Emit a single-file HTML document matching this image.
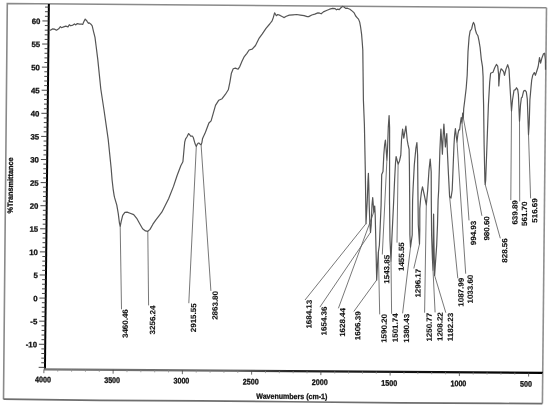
<!DOCTYPE html>
<html><head><meta charset="utf-8"><title>IR spectrum</title>
<style>
html,body{margin:0;padding:0;background:#fff;}
body{width:550px;height:407px;overflow:hidden;}
svg{display:block;filter:blur(0.25px);}
text{font-family:"Liberation Sans", Arial, sans-serif;fill:#111;stroke:#111;stroke-width:0.3px;font-weight:bold;}
text.pk{stroke-width:0.1px;}
</style></head><body>
<svg width="550" height="407" viewBox="0 0 550 407">
<defs><linearGradient id="xg" gradientUnits="userSpaceOnUse" x1="45" y1="0" x2="543" y2="0"><stop offset="0" stop-color="#777"/><stop offset="0.38" stop-color="#666"/><stop offset="0.5" stop-color="#222"/><stop offset="1" stop-color="#000"/></linearGradient></defs>
<rect width="550" height="407" fill="#fff"/>
<polyline points="3.5,399.2 7.3,3.5 546.5,7.75" fill="none" stroke="#8a8a8a" stroke-width="1.6"/>
<polyline points="546.5,7.75 542.4,403.6" fill="none" stroke="#909090" stroke-width="1.6"/>
<polyline points="542.4,403.6 500,403.45 400,402.95 290,401.75 200,400.9 100,400.35 3.5,399.2" fill="none" stroke="#6e6e6e" stroke-width="1.7" stroke-linejoin="round"/>
<line x1="48.86" y1="4" x2="44.95" y2="369.4" stroke="#000" stroke-width="2"/>
<line x1="44.05" y1="369.4" x2="542.85" y2="372.84" stroke="url(#xg)" stroke-width="2.1"/>
<path d="M38.67 367.35L44.97 367.39M41.22 362.75L45.02 362.78M41.27 358.13L45.07 358.16M41.32 353.51L45.12 353.54M41.37 348.89L45.17 348.92M38.92 344.26L45.22 344.3M41.47 339.65L45.27 339.68M41.52 335.04L45.32 335.06M41.57 330.42L45.37 330.44M41.62 325.8L45.42 325.82M39.17 321.16L45.47 321.2M41.72 316.56L45.52 316.59M41.76 311.94L45.56 311.97M41.81 307.32L45.61 307.35M41.86 302.7L45.66 302.73M39.41 298.07L45.71 298.11M41.96 293.46L45.76 293.49M42.01 288.85L45.81 288.87M42.06 284.23L45.86 284.25M42.11 279.61L45.91 279.63M39.66 274.97L45.96 275.01M42.21 270.37L46.01 270.4M42.26 265.75L46.06 265.78M42.31 261.13L46.11 261.16M42.36 256.51L46.16 256.54M39.91 251.88L46.21 251.92M42.46 247.27L46.26 247.3M42.51 242.66L46.31 242.68M42.56 238.04L46.36 238.06M42.6 233.42L46.4 233.44M40.15 228.78L46.45 228.82M42.7 224.18L46.5 224.21M42.75 219.56L46.55 219.59M42.8 214.94L46.6 214.97M42.85 210.32L46.65 210.35M40.4 205.69L46.7 205.73M42.95 201.08L46.75 201.11M43 196.47L46.8 196.49M43.05 191.85L46.85 191.87M43.1 187.23L46.9 187.25M40.65 182.59L46.95 182.63M43.2 177.99L47 178.02M43.25 173.37L47.05 173.4M43.3 168.75L47.1 168.78M43.35 164.13L47.15 164.16M40.9 159.5L47.2 159.54M43.44 154.89L47.24 154.92M43.49 150.28L47.29 150.3M43.54 145.66L47.34 145.68M43.59 141.04L47.39 141.06M41.14 136.4L47.44 136.44M43.69 131.8L47.49 131.83M43.74 127.18L47.54 127.21M43.79 122.56L47.59 122.59M43.84 117.94L47.64 117.97M41.39 113.31L47.69 113.35M43.94 108.7L47.74 108.73M43.99 104.09L47.79 104.11M44.04 99.47L47.84 99.49M44.09 94.85L47.89 94.87M41.64 90.21L47.94 90.25M44.19 85.61L47.99 85.64M44.24 80.99L48.04 81.02M44.29 76.37L48.09 76.4M44.33 71.75L48.13 71.78M41.88 67.12L48.18 67.16M44.43 62.51L48.23 62.54M44.48 57.9L48.28 57.92M44.53 53.28L48.33 53.3M44.58 48.66L48.38 48.68M42.13 44.02L48.43 44.06M44.68 39.42L48.48 39.45M44.73 34.8L48.53 34.83M44.78 30.18L48.58 30.21M44.83 25.56L48.63 25.59M42.38 20.93L48.68 20.97M44.93 16.32L48.73 16.35M44.98 11.71L48.78 11.73M45.03 7.09L48.83 7.11" stroke="#333" stroke-width="0.9"/>
<text transform="translate(36.99 347.37) rotate(0.42)" font-size="7.8" text-anchor="end">-10</text>
<text transform="translate(37.23 324.28) rotate(0.42)" font-size="7.8" text-anchor="end">-5</text>
<text transform="translate(37.48 301.18) rotate(0.42)" font-size="7.8" text-anchor="end">0</text>
<text transform="translate(37.73 278.09) rotate(0.42)" font-size="7.8" text-anchor="end">5</text>
<text transform="translate(37.97 254.99) rotate(0.42)" font-size="7.8" text-anchor="end">10</text>
<text transform="translate(38.22 231.9) rotate(0.42)" font-size="7.8" text-anchor="end">15</text>
<text transform="translate(38.47 208.8) rotate(0.42)" font-size="7.8" text-anchor="end">20</text>
<text transform="translate(38.71 185.71) rotate(0.42)" font-size="7.8" text-anchor="end">25</text>
<text transform="translate(38.96 162.61) rotate(0.42)" font-size="7.8" text-anchor="end">30</text>
<text transform="translate(39.21 139.52) rotate(0.42)" font-size="7.8" text-anchor="end">35</text>
<text transform="translate(39.46 116.42) rotate(0.42)" font-size="7.8" text-anchor="end">40</text>
<text transform="translate(39.7 93.33) rotate(0.42)" font-size="7.8" text-anchor="end">45</text>
<text transform="translate(39.95 70.23) rotate(0.42)" font-size="7.8" text-anchor="end">50</text>
<text transform="translate(40.2 47.14) rotate(0.42)" font-size="7.8" text-anchor="end">55</text>
<text transform="translate(40.44 24.04) rotate(0.42)" font-size="7.8" text-anchor="end">60</text>
<path d="M43.9 369.39L43.86 373.19M113.15 369.87L113.11 373.67M182.4 370.35L182.36 374.15M251.65 370.83L251.61 374.63M320.9 371.3L320.86 375.1M390.15 371.78L390.11 375.58M459.4 372.26L459.36 376.06M528.65 372.74L528.61 376.54" stroke="#444" stroke-width="0.8"/>
<path d="M57.75 369.49L57.73 371.69M71.6 369.58L71.58 371.78M85.45 369.68L85.43 371.88M99.3 369.78L99.28 371.98M127 369.97L126.98 372.17M140.85 370.06L140.83 372.26M154.7 370.16L154.68 372.36M168.55 370.25L168.53 372.45M196.25 370.44L196.23 372.64M210.1 370.54L210.08 372.74M223.95 370.64L223.93 372.84M237.8 370.73L237.78 372.93M265.5 370.92L265.48 373.12M279.35 371.02L279.33 373.22M293.2 371.11L293.18 373.31M307.05 371.21L307.03 373.41M334.75 371.4L334.73 373.6M348.6 371.5L348.58 373.7M362.45 371.59L362.43 373.79M376.3 371.69L376.28 373.89M404 371.88L403.98 374.08M417.85 371.97L417.83 374.17M431.7 372.07L431.68 374.27M445.55 372.16L445.53 374.36M473.25 372.36L473.23 374.56M487.1 372.45L487.08 374.65M500.95 372.55L500.93 374.75M514.8 372.64L514.78 374.84M542.5 372.83L542.48 375.03" stroke="#888" stroke-width="0.7"/>
<text transform="translate(43 382.4) rotate(0.42) scale(0.94 1.08)" font-size="7.6" text-anchor="middle">4000</text>
<text transform="translate(112.1 383) rotate(0.42) scale(0.94 1.08)" font-size="7.6" text-anchor="middle">3500</text>
<text transform="translate(181.4 383.5) rotate(0.42) scale(0.94 1.08)" font-size="7.6" text-anchor="middle">3000</text>
<text transform="translate(250.7 384.5) rotate(0.42) scale(0.94 1.08)" font-size="7.6" text-anchor="middle">2500</text>
<text transform="translate(319.8 385) rotate(0.42) scale(0.94 1.08)" font-size="7.6" text-anchor="middle">2000</text>
<text transform="translate(389.2 385.9) rotate(0.42) scale(0.94 1.08)" font-size="7.6" text-anchor="middle">1500</text>
<text transform="translate(458.4 386.2) rotate(0.42) scale(0.94 1.08)" font-size="7.6" text-anchor="middle">1000</text>
<text transform="translate(525.9 386.7) rotate(0.42) scale(0.94 1.08)" font-size="7.6" text-anchor="middle">500</text>
<text transform="translate(291.8 398.9) rotate(0.42)" font-size="7.6" text-anchor="middle" textLength="71" lengthAdjust="spacingAndGlyphs">Wavenumbers (cm-1)</text>
<text transform="translate(12.9 185.4) rotate(-89.58)" font-size="7.6" text-anchor="middle" textLength="56" lengthAdjust="spacingAndGlyphs">%Transmittance</text>
<polyline points="48.9,30 50.5,30.2 52.7,28.8 54.4,29.1 56.5,30.2 58.7,28.8 60.4,26.6 61.5,27.7 63.6,26.9 65.8,26.1 68,26.9 69.3,24.7 70.7,25.8 72.9,25.1 74.5,23.9 75.6,24.9 77.3,23.6 79.5,24.2 81.6,24 82.7,24.5 83.8,21.8 85.2,19.1 86.5,20.4 87.6,22.2 88.5,23.3 89.3,22.9 90.9,24.2 92.2,25.8 93.6,31.8 95,37.3 96.1,46 97.8,59.6 100.8,89 104,110 108.2,139.4 111.2,168.8 112.1,180 113.1,188.8 114.1,195.3 114.6,197.7 116.8,205.1 118.3,213.9 119.4,222.8 120.2,226.4 121.2,221.3 122.7,215.4 124.9,212.4 127.1,212.1 130.1,213.2 133.7,214.6 136.7,218.3 139.6,223.5 142.6,228.7 145.5,230.9 147.8,231.3 150,229.4 152.9,224.2 155.9,219.8 158.8,216.1 161.8,212.2 163.7,208.5 168.6,198.7 173.5,186.4 177.2,175.3 180.9,165.5 182.9,161.8 183.9,150.8 184.7,142.2 185.6,138.8 186.9,137 188.6,133.6 189.5,134.5 190.7,136.2 192.5,136.2 193.3,137.5 194.6,142.2 195.5,144.8 196.3,146.5 197.2,144.3 198.2,143.1 199.1,143.2 200.2,144.3 201.1,144.8 201.9,142.6 202.5,138.8 203.6,136.2 204.9,133.6 206.2,130.2 207.5,126.7 208.9,123 211.1,120.8 213.3,113.1 215.5,105.3 218.8,100.2 222.1,98.7 225.5,94.2 228.3,89.8 229.9,82.1 231.4,73.2 233.2,68.8 235.4,68.1 238.1,69.2 239.8,66.6 242.1,61 244.3,56.6 246.9,53.3 249.1,50 252.2,49.2 255.5,45.5 259.2,38.1 262.3,33.8 266,28.3 269.7,24 272.1,20.9 273.4,17.2 274.6,12.9 275.8,14.8 276.4,15.7 277.7,14.5 280.1,15.4 282.6,16.8 284.2,17.6 286.3,16.2 289.3,15.1 293,14.8 296.7,14.5 300.4,15.1 304.1,15.7 307.2,16.6 308.7,16.6 311.8,15 314.8,14.1 317.9,12.9 319.8,13.2 321.2,13.8 323.4,11.9 326.5,10.5 329.6,9.2 332.7,8.4 335.1,8.6 336.4,9.8 337.6,9.2 339.2,9.6 340.7,8 342.5,6.4 344.1,7 345.6,8.4 347.4,8.2 349.9,9.2 352.3,11.1 354.2,12.9 355.7,16 357.3,17.8 358.5,19.1 359.7,22.1 360.6,27 361.6,34.4 362.2,41.8 362.8,50 363.4,100 364.4,125 365.3,170 365.7,200 366,223.6 367.3,200 368,180 368.4,173.3 368.8,185 369.2,205 369.8,222 370.5,232.4 371.2,225 372,205 372.7,197.6 373.3,205 373.8,212 374.3,207 374.7,206 375.2,215 375.8,240 376.7,280 377.5,265 378.4,252 379.4,245 380.2,226 381.1,205 381.7,174.6 383,171.6 383.8,155 384.6,145 385.4,140 386.2,150 386.9,160 387.5,150 388.3,127 389.1,115.5 389.6,128 389.6,160 389.5,200 390,240 391,261 391.8,240 393.4,207 394.6,180 395.5,163 396.1,156.5 397,160 398.1,164.2 399.5,161 400.8,155 401.5,140 402.6,129 403.8,138.2 405.9,126 407.2,140 408.1,144.9 409.1,149.3 409.4,165 409.7,200 409.9,235 410.5,247.2 412.2,235 412.6,200 413.1,188 414.3,165 415.9,148 416.9,142.5 417.6,155 417.9,190 418.3,225 419.5,244 419.8,230 419.8,209 420.6,199 421.5,191.5 422.5,186.8 424.5,196 426.3,205 427.7,190 429,170 430.2,159 431.2,172 431.3,200 431.6,235 432.4,258 433,270 433.3,235 433.6,214 434,245 434.6,275.4 435.8,258 436.7,245 437.5,225 438.1,200 438.7,190 439.9,150 440.6,135 440.9,129.2 441.6,140 442.4,154.2 443.2,135 443.9,124 444.6,135 445.4,146.9 446.1,139 446.8,133.6 447.3,150 448.5,175 449.6,196.5 451,198 452.2,190 453.4,160 454,145 454.6,135 455.4,128.6 456.2,136 457,142 457.9,134 458.8,129.9 459.6,130 460.3,124 461.2,117.5 462,123 462.7,113 463.3,118 463.7,108.8 464.8,100 466.2,88 467.2,75 468,51.9 469.1,37.1 470.1,31.2 471.6,29 472.8,23.9 473.5,22.4 474.5,24.6 475.4,29.8 476.5,33.5 477.9,35.7 479,40.8 480.1,47.5 481.3,59.3 482.5,66.6 483.1,76.6 483.3,93 483.6,105 484.1,144 484.9,181 485.2,184.5 485.7,180 487,144 488.4,105 489.7,82.1 490.6,73.3 491.7,72.7 493,72.2 494.7,67.8 496.4,64.4 497.7,66.1 498.6,74.4 498.8,86 499.7,74.4 501,68.9 501.6,69.1 503.6,71.6 504.5,75.3 506,69.1 507.7,64.7 509,69.1 510,86.6 510.7,98 511.5,111 512.5,100 514,90.3 515.5,89.6 516.5,87.7 517.7,89.6 518.4,94.7 519.5,121.3 520.5,105 521.4,97.7 522.1,97.4 523.6,91.1 525.1,90.3 526.3,91.8 527.3,99.2 528.5,134.6 529.2,124.2 529.9,100 531,87.4 531.7,80 532.7,75.3 534.3,72.6 535.4,75.3 536.5,72 538.2,66.5 539.5,57.7 540.6,63.2 542,57.7 543.5,53.8 544.6,53.2 545.4,60 545.5,69.8" fill="none" stroke="#555" stroke-width="1.2" stroke-linejoin="round"/>
<path d="M120.2 226.4L121.5 309.3M147.8 231.3L148.6 305.4M196.3 146.5L188.8 303.2M201.1 144.8L210.9 290.9M366 223.6L305 300M370.5 232.4L319.9 307.1M373.8 212L338.4 308.3M376.7 280L353.8 311.5M378.4 252L379.7 314.4M386.9 160L382.3 254.5M391 261L391.6 313.8M398.1 164.2L397 242.6M410.5 247.2L402.6 313.3M419.5 244L413.8 268.5M426.3 205L424.6 312.7M433 270L435.1 312.4M434.6 275.4L445.8 312.7M449.6 196.5L457.8 278.3M457 142L465.7 273.7M462 123L469 220.4M463.3 118L481.9 215.8M485.2 184.5L500.3 238.3M511.5 111L510.8 200.1M519.5 121.3L519.7 201.4M528.5 134.6L530.6 198.3" fill="none" stroke="#555" stroke-width="0.8"/>
<text class="pk" transform="translate(127.86 309.2) rotate(-89.58) scale(1.05 1)" font-size="7.6" text-anchor="end">3460.46</text>
<text class="pk" transform="translate(155.26 305.6) rotate(-89.58) scale(1.05 1)" font-size="7.6" text-anchor="end">3256.24</text>
<text class="pk" transform="translate(196.16 303.4) rotate(-89.58) scale(1.05 1)" font-size="7.6" text-anchor="end">2915.55</text>
<text class="pk" transform="translate(217.76 291) rotate(-89.58) scale(1.05 1)" font-size="7.6" text-anchor="end">2863.80</text>
<text class="pk" transform="translate(311.66 299.8) rotate(-89.58) scale(1.05 1)" font-size="7.6" text-anchor="end">1684.13</text>
<text class="pk" transform="translate(326.66 306.6) rotate(-89.58) scale(1.05 1)" font-size="7.6" text-anchor="end">1654.36</text>
<text class="pk" transform="translate(345.16 308) rotate(-89.58) scale(1.05 1)" font-size="7.6" text-anchor="end">1628.44</text>
<text class="pk" transform="translate(360.46 311.4) rotate(-89.58) scale(1.05 1)" font-size="7.6" text-anchor="end">1606.39</text>
<text class="pk" transform="translate(386.76 314) rotate(-89.58) scale(1.05 1)" font-size="7.6" text-anchor="end">1590.20</text>
<text class="pk" transform="translate(389.46 254.9) rotate(-89.58) scale(1.05 1)" font-size="7.6" text-anchor="end">1543.85</text>
<text class="pk" transform="translate(397.86 313.4) rotate(-89.58) scale(1.05 1)" font-size="7.6" text-anchor="end">1501.74</text>
<text class="pk" transform="translate(404.06 242.2) rotate(-89.58) scale(1.05 1)" font-size="7.6" text-anchor="end">1455.55</text>
<text class="pk" transform="translate(409.16 313.9) rotate(-89.58) scale(1.05 1)" font-size="7.6" text-anchor="end">1380.43</text>
<text class="pk" transform="translate(420.66 268.8) rotate(-89.58) scale(1.05 1)" font-size="7.6" text-anchor="end">1296.17</text>
<text class="pk" transform="translate(431.86 312.8) rotate(-89.58) scale(1.05 1)" font-size="7.6" text-anchor="end">1250.77</text>
<text class="pk" transform="translate(442.66 312.2) rotate(-89.58) scale(1.05 1)" font-size="7.6" text-anchor="end">1208.22</text>
<text class="pk" transform="translate(453.06 312.8) rotate(-89.58) scale(1.05 1)" font-size="7.6" text-anchor="end">1182.23</text>
<text class="pk" transform="translate(463.66 277.9) rotate(-89.58) scale(1.05 1)" font-size="7.6" text-anchor="end">1087.99</text>
<text class="pk" transform="translate(472.86 274.7) rotate(-89.58) scale(1.05 1)" font-size="7.6" text-anchor="end">1033.60</text>
<text class="pk" transform="translate(476.06 220.8) rotate(-89.58) scale(1.05 1)" font-size="7.6" text-anchor="end">994.93</text>
<text class="pk" transform="translate(489.36 216.2) rotate(-89.58) scale(1.05 1)" font-size="7.6" text-anchor="end">980.60</text>
<text class="pk" transform="translate(507.36 238.3) rotate(-89.58) scale(1.05 1)" font-size="7.6" text-anchor="end">828.56</text>
<text class="pk" transform="translate(517.56 200.2) rotate(-89.58) scale(1.05 1)" font-size="7.6" text-anchor="end">639.89</text>
<text class="pk" transform="translate(527.06 201.5) rotate(-89.58) scale(1.05 1)" font-size="7.6" text-anchor="end">561.70</text>
<text class="pk" transform="translate(537.36 198.3) rotate(-89.58) scale(1.05 1)" font-size="7.6" text-anchor="end">516.69</text>
</svg>
</body></html>
